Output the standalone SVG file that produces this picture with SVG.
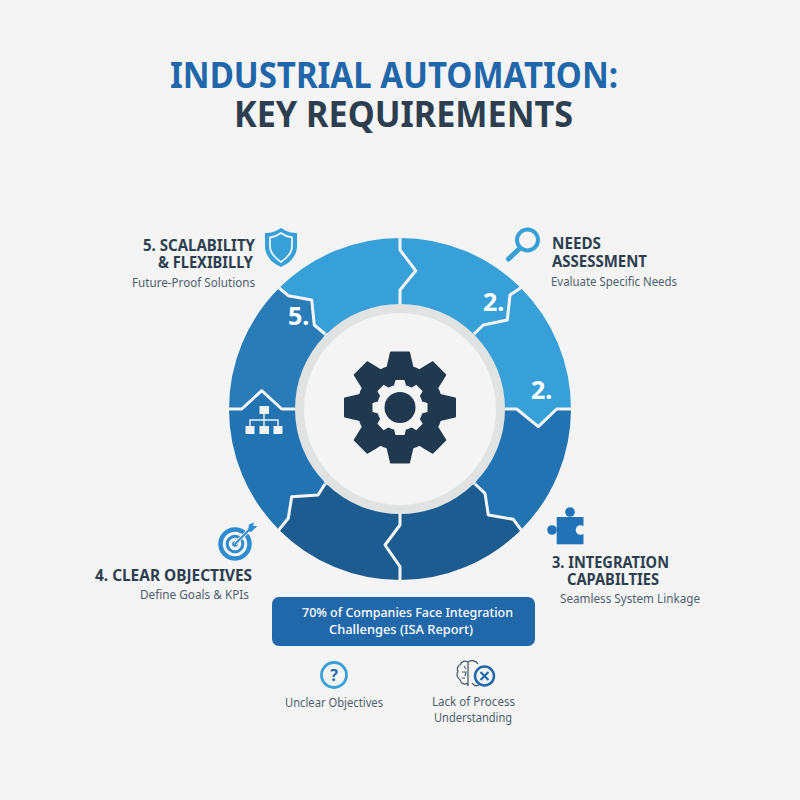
<svg xmlns="http://www.w3.org/2000/svg" width="800" height="800" viewBox="0 0 800 800">
<style>
text{font-family:"Noto Sans","Open Sans","Liberation Sans",sans-serif}
.h{font-weight:700;font-size:15.5px;fill:#2c3e50}
.s{font-size:12px;fill:#4f5f6e}
.n{font-weight:700;font-size:25px;fill:#fff}
.b{font-size:12.6px;font-weight:500;fill:#fff}
.c{font-size:12px;fill:#4f5f6e}
.div{fill:none;stroke:#f4f4f4;stroke-width:3;stroke-linejoin:round}
</style>
<defs>
<polygon id="tooth" points="-9,-55 9,-55 13,-38 -13,-38" fill="#21394f" stroke="#21394f" stroke-width="2" stroke-linejoin="round"/>
<polygon id="tooth2" points="-4.5,-27.5 4.5,-27.5 6.5,-20 -6.5,-20" fill="#f4f4f4"/>
</defs>
<rect width="800" height="800" fill="#f4f4f4"/>
<g id="title" font-weight="700">
<text x="170" y="88" font-size="35" fill="#1f66aa" textLength="448" lengthAdjust="spacingAndGlyphs">INDUSTRIAL AUTOMATION:</text>
<text x="234" y="127" font-size="35" fill="#2c3e50" textLength="339" lengthAdjust="spacingAndGlyphs">KEY REQUIREMENTS</text>
</g>
<g id="wedges">
<path id="seg-1" fill="#38a0d9" d="M400,238A171,171 0 0 1 520.9,288.1L510,295 507.3,320 483.3,325 474,334 400,304 400,290 415.7,270.7 400,250Z"/>
<path id="seg-2" fill="#38a0d9" d="M520.9,288.1A171,171 0 0 1 571,409L556.7,409 538.3,426.7 516.7,409 505,409 474,334 483.3,325 507.3,320 510,295Z"/>
<path id="seg-3" fill="#2173b1" d="M571,409A171,171 0 0 1 520.9,529.9L513.3,519.3 488.3,515 485,493.3 475,484 505,409 516.7,409 538.3,426.7 556.7,409Z"/>
<path id="seg-4" fill="#1c5c91" d="M520.9,529.9A171,171 0 0 1 400,580L400,566.7 385,545 400,525 400,514 475,484 485,493.3 488.3,515 513.3,519.3Z"/>
<path id="seg-5" fill="#1c5c91" d="M400,580A171,171 0 0 1 279.1,529.9L288.3,518.3 291.7,496.7 318,495 325,484 400,514 400,525 385,545 400,566.7Z"/>
<path id="seg-6" fill="#2173b1" d="M279.1,529.9A171,171 0 0 1 229,409L241.7,409 261.7,390.7 281.7,409 295,409 325,484 318,495 291.7,496.7 288.3,518.3Z"/>
<path id="seg-7" fill="#2a7cb9" d="M229,409A171,171 0 0 1 279.1,288.1L288.3,295.7 311.7,300 314.3,325 325,334 295,409 281.7,409 261.7,390.7 241.7,409Z"/>
<path id="seg-8" fill="#38a0d9" d="M279.1,288.1A171,171 0 0 1 400,238L400,250 415.7,270.7 400,290 400,304 325,334 314.3,325 311.7,300 288.3,295.7Z"/>
</g>
<g id="connectors">
<polyline class="div" points="400,236 400,250 415.7,270.7 400,290 400,304"/>
<polyline class="div" points="522,287 510,295 507.3,320 483.3,325 474,334"/>
<polyline class="div" points="573,409 556.7,409 538.3,426.7 516.7,409 505,409"/>
<polyline class="div" points="522,531 513.3,519.3 488.3,515 485,493.3 475,484"/>
<polyline class="div" points="400,582 400,566.7 385,545 400,525 400,514"/>
<polyline class="div" points="278,531 288.3,518.3 291.7,496.7 318,495 325,484"/>
<polyline class="div" points="227,409 241.7,409 261.7,390.7 281.7,409 295,409"/>
<polyline class="div" points="278,287 288.3,295.7 311.7,300 314.3,325 325,334"/>
</g>
<g id="hub">
<circle cx="400" cy="409" r="100.5" fill="#f4f4f4" stroke="#e1e2e2" stroke-width="9"/>
<g id="gear" transform="translate(400,407.5)">
<use href="#tooth"/><use href="#tooth" transform="rotate(45)"/><use href="#tooth" transform="rotate(90)"/><use href="#tooth" transform="rotate(135)"/><use href="#tooth" transform="rotate(180)"/><use href="#tooth" transform="rotate(225)"/><use href="#tooth" transform="rotate(270)"/><use href="#tooth" transform="rotate(315)"/>
<circle r="43" fill="#21394f"/>
<circle r="23" fill="#f4f4f4"/>
<use href="#tooth2"/><use href="#tooth2" transform="rotate(45)"/><use href="#tooth2" transform="rotate(90)"/><use href="#tooth2" transform="rotate(135)"/><use href="#tooth2" transform="rotate(180)"/><use href="#tooth2" transform="rotate(225)"/><use href="#tooth2" transform="rotate(270)"/><use href="#tooth2" transform="rotate(315)"/>
<circle r="15.5" fill="#21394f"/>
</g>
</g>
<g id="numbers">
<text class="n" x="288" y="325">5.</text>
<text class="n" x="483" y="311">2.</text>
<text class="n" x="531" y="399">2.</text>
</g>
<g id="hierarchy-icon" fill="#f4f4f4">
<rect x="259.5" y="406" width="9.5" height="8"/>
<rect x="245.5" y="426" width="9" height="8"/>
<rect x="259.5" y="426" width="9.5" height="8"/>
<rect x="273.5" y="426" width="9" height="8"/>
<path d="M264,414V426M250,426V420H278V426" fill="none" stroke="#f4f4f4" stroke-width="1.4"/>
</g>
<g id="node-scalability">
<path d="M281,228C275,232 271,233 265,233V246C265,256 272,263 281,267C290,263 297,256 297,246V233C291,233 287,232 281,228Z" fill="#38a0d9"/>
<path d="M281,233C277,236 274,237 270,237.5V246C270,253 275,258 281,262C287,258 292,253 292,246V237.5C288,237 285,236 281,233Z" fill="none" stroke="#f4f4f4" stroke-width="1.8"/>
<text class="h" x="143" y="251" textLength="112" lengthAdjust="spacingAndGlyphs">5. SCALABILITY</text>
<text class="h" x="158" y="268" textLength="95" lengthAdjust="spacingAndGlyphs">&amp; FLEXIBILLY</text>
<text class="s" x="132" y="287" textLength="123" lengthAdjust="spacingAndGlyphs">Future-Proof Solutions</text>
</g>
<g id="node-needs">
<circle cx="527.5" cy="240" r="10.5" fill="none" stroke="#38a0d9" stroke-width="4"/>
<path d="M519,249L508.5,259" stroke="#38a0d9" stroke-width="5" stroke-linecap="round"/>
<text class="h" x="552" y="249" textLength="49" lengthAdjust="spacingAndGlyphs">NEEDS</text>
<text class="h" x="552" y="267" textLength="95" lengthAdjust="spacingAndGlyphs">ASSESSMENT</text>
<text class="s" x="551" y="286" textLength="126" lengthAdjust="spacingAndGlyphs">Evaluate Specific Needs</text>
</g>
<g id="node-integration">
<rect x="556.700" y="517" width="26.800" height="27.300" fill="#2272b8"/>
<circle cx="570" cy="512" r="4.800" fill="#2272b8"/>
<circle cx="552" cy="530" r="4.800" fill="#2272b8"/>
<circle cx="580.500" cy="530" r="4.800" fill="#f4f4f4"/>
<rect x="581" y="526.500" width="4" height="7" fill="#f4f4f4"/>
<text class="h" x="552" y="568" textLength="117" lengthAdjust="spacingAndGlyphs">3. INTEGRATION</text>
<text class="h" x="567" y="585" textLength="92" lengthAdjust="spacingAndGlyphs">CAPABILTIES</text>
<text class="s" x="560" y="603" textLength="140" lengthAdjust="spacingAndGlyphs">Seamless System Linkage</text>
</g>
<g id="node-objectives">
<circle cx="235" cy="544" r="14.500" fill="none" stroke="#2f8bd0" stroke-width="4.500"/>
<circle cx="235" cy="544" r="7.800" fill="none" stroke="#2f8bd0" stroke-width="3"/>
<circle cx="235" cy="544" r="2.800" fill="#2f8bd0"/>
<path d="M235,544L250,529" stroke="#f4f4f4" stroke-width="3.500"/>
<path d="M235,544L250,529" stroke="#2f8bd0" stroke-width="1.800"/>
<path d="M248,531L249,524.500 254,522.500 253,526 257.500,526 251,532Z" fill="#2f8bd0"/>
<text class="h" x="95" y="581" textLength="157" lengthAdjust="spacingAndGlyphs">4. CLEAR OBJECTIVES</text>
<text class="s" x="140" y="599" textLength="109" lengthAdjust="spacingAndGlyphs">Define Goals &amp; KPIs</text>
</g>
<g id="callout">
<rect x="272" y="597" width="263" height="49" rx="7" fill="#2068aa"/>
<text class="b" x="302" y="617" textLength="211" lengthAdjust="spacingAndGlyphs">70% of Companies Face Integration</text>
<text class="b" x="329" y="634" textLength="144" lengthAdjust="spacingAndGlyphs">Challenges (ISA Report)</text>
</g>
<g id="challenge-unclear">
<circle cx="334" cy="675" r="12.500" fill="none" stroke="#38a0d9" stroke-width="2.800"/>
<text x="334" y="681" font-size="16" font-weight="700" fill="#2068aa" text-anchor="middle">?</text>
<text class="c" x="285" y="707" textLength="98" lengthAdjust="spacingAndGlyphs">Unclear Objectives</text>
</g>
<g id="challenge-process">
<path d="M468,662C464,660 461,662 460.500,664.500C457.500,665.500 456.500,669 458,671.500C456,674 457,678 460,679.500C460.500,683 464,685 467,683.500L468,685.500V662M468,662C471,660 476,660 478,664M472,683C474,686 477,686 479,685" fill="none" stroke="#4a5b6b" stroke-width="1.300" stroke-linejoin="round"/>
<path d="M462,672H466L465,676M464,666L466,669M462,678H465" fill="none" stroke="#4a5b6b" stroke-width="1.100"/>
<circle cx="484.500" cy="676" r="9.500" fill="#f4f4f4" stroke="#2068aa" stroke-width="2.500"/>
<path d="M480.500,672L488.500,680M488.500,672L480.500,680" stroke="#2068aa" stroke-width="2.200"/>
<text class="c" x="432" y="706" textLength="83" lengthAdjust="spacingAndGlyphs">Lack of Process</text>
<text class="c" x="434" y="722" textLength="78" lengthAdjust="spacingAndGlyphs">Understanding</text>
</g>
</svg>
